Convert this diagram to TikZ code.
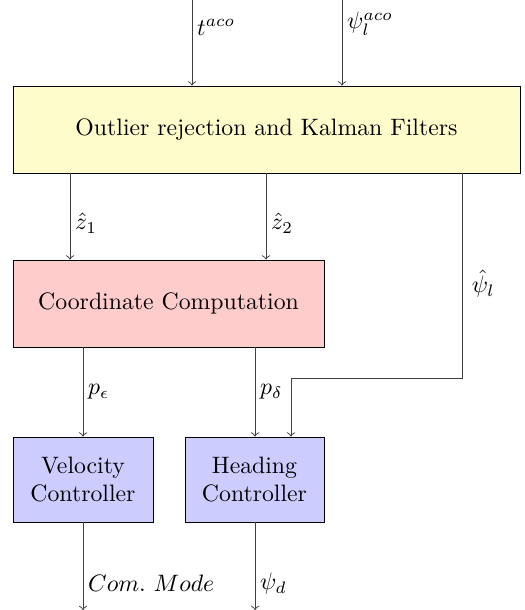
\documentclass[tikz,border=0pt]{standalone}
\usetikzlibrary{calc}
\begin{document}
\begin{tikzpicture}[x=0.421pt,y=-0.421pt,
  blk/.style={draw=black, inner sep=0pt, align=center},
  wire/.style={draw=black!75, ->},
  lab/.style={right, inner sep=2pt}]
\useasboundingbox (0,0) rectangle (524,610);
\node[blk, fill=yellow!20, minimum width={507*0.421pt}, minimum height={87*0.421pt}] (kf) at (266.5,129.5) {Outlier rejection and Kalman Filters};
\node[blk, fill=red!20, minimum width={311*0.421pt}, minimum height={87*0.421pt}] (cc) at (168.5,303.5) {Coordinate Computation};
\node[blk, fill=blue!20, minimum width={140*0.421pt}, minimum height={85*0.421pt}] (vc) at (83,479.5) {Velocity\\Controller};
\node[blk, fill=blue!20, minimum width={139*0.421pt}, minimum height={85*0.421pt}] (hc) at (254.5,479.5) {Heading\\Controller};
% free ends
\coordinate (in1) at (192,0);
\coordinate (in2) at (342,0);
\coordinate (k1) at (70,173);
\coordinate (k2) at (266,173);
\coordinate (k3) at (462,173);
\coordinate (c1) at (83,347);
\coordinate (c2) at (255,347);
\coordinate (bend1) at (462,378);
\coordinate (bend2) at (291,378);
\coordinate (out1) at (83,610);
\coordinate (out2) at (255,610);
% connectors
\draw[wire] (in1) -- node[lab, pos=0.32] {$t^{aco}$} (in1 |- kf.north);
\draw[wire] (in2) -- node[lab, pos=0.28] {$\psi_l^{aco}$} (in2 |- kf.north);
\draw[wire] (k1) -- node[lab, pos=0.58] {$\hat{z}_1$} (k1 |- cc.north);
\draw[wire] (k2) -- node[lab, pos=0.58] {$\hat{z}_2$} (k2 |- cc.north);
\draw[wire] (k3) -- node[lab, pos=0.54, inner sep=4pt] {$\hat{\psi}_l$} (bend1) -- (bend2) -- (bend2 |- hc.north);
\draw[wire] (c1) -- node[lab, pos=0.5] {$p_\epsilon$} (c1 |- vc.north);
\draw[wire] (c2) -- node[lab, pos=0.5] {$p_\delta$} (c2 |- hc.north);
\draw[wire] (vc.south -| out1) -- node[lab, pos=0.7] {$Com.\ Mode$} (out1);
\draw[wire] (hc.south -| out2) -- node[lab, pos=0.7] {$\psi_d$} (out2);
\end{tikzpicture}
\end{document}
